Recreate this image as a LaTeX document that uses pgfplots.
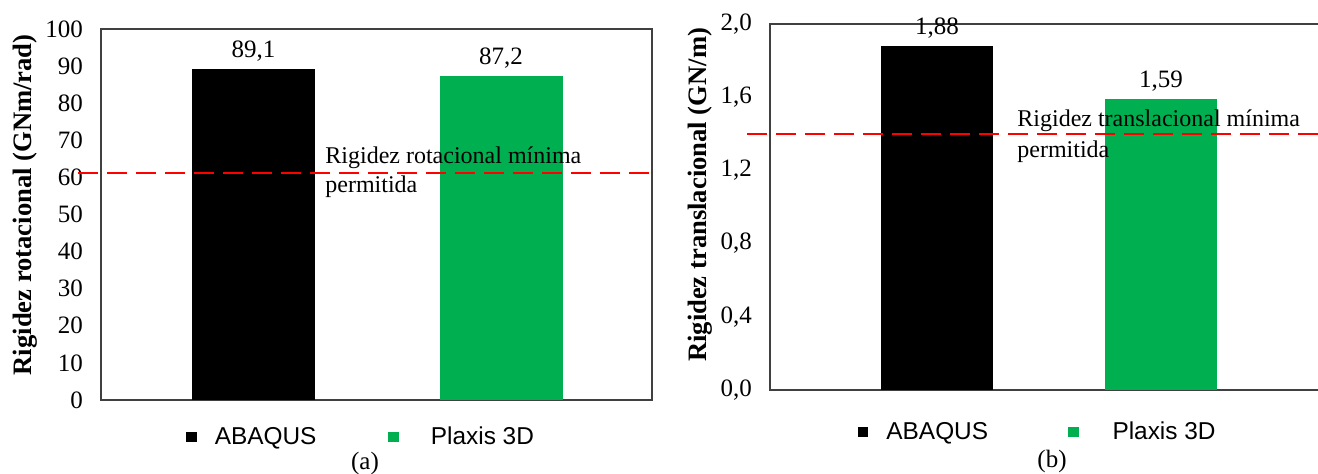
\documentclass[border=0pt]{standalone}
\usepackage{fontspec}
\setmainfont{Liberation Serif}
\newfontfamily\arialfont{Liberation Sans}
\usepackage{pgfplots}
\pgfplotsset{compat=1.18}
\definecolor{plaxis}{HTML}{00B050}
\definecolor{frame}{HTML}{404040}
\pgfplotsset{
  panel/.style={
    scale only axis, anchor=south west, clip=false,
    axis line style={frame, line width=0.7pt},
    xtick=\empty, major tick length=0pt,
    tick label style={font=\fontsize{12.5}{15}\selectfont},
    /pgf/number format/assume math mode=true,
    yticklabel style={xshift=-5.5pt},
    legend columns=2,
    legend style={draw=none, fill=none, font=\arialfont\fontsize{12.2}{14}\selectfont,
      /tikz/every odd column/.append style={column sep=7pt}},
    legend image code/.code={\fill (0pt,-2.6pt) rectangle (5.2pt,2.6pt);},
    ylabel style={font=\bfseries\fontsize{13.3}{16}\selectfont, anchor=center},
    nodes near coords style={font=\fontsize{12.5}{15}\selectfont, text=black, yshift=0.5pt},
  },
}
\begin{document}
\begin{tikzpicture}
\useasboundingbox (0,0) rectangle (659pt,236.5pt);
% ---------------- (a)
\begin{axis}[panel,
  at={(50.5pt,36.5pt)}, width=275.5pt, height=185.5pt,
  xmin=-0.616, xmax=1.610, ymin=0, ymax=100,
  ytick={0,10,...,100},
  ylabel={Rigidez rotacional (GNm/rad)},
  ylabel style={at={(axis description cs:-0.138,0.526)}},
  legend style={at={(axis description cs:0.474,-0.0997)}, anchor=center,
    /tikz/every even column/.append style={column sep=34pt}},
]
\addplot[ybar, bar width=61.5pt, bar shift=0pt, fill=black, draw=none,
  nodes near coords={\pgfmathprintnumber[use comma,fixed,precision=2]{\pgfplotspointmeta}}]
  coordinates {(0,89.1)};
\addlegendentry{ABAQUS}
\addplot[ybar, bar width=61.5pt, bar shift=0pt, fill=plaxis, draw=none,
  nodes near coords={\pgfmathprintnumber[use comma,fixed,precision=2]{\pgfplotspointmeta}}]
  coordinates {(1,87.2)};
\addlegendentry{\hspace{7pt}Plaxis 3D}
\addplot[red, line width=1pt, dash pattern=on 10pt off 4.5pt, forget plot]
  coordinates {(-0.709,61.2) (1.622,61.2)};
\end{axis}
\node[anchor=west, align=left, inner sep=0pt, font=\fontsize{12}{14.5}\selectfont]
  at (162.5pt,150.25pt) {Rigidez rotacional mínima\\permitida};
\node[font=\fontsize{12.5}{15}\selectfont] at (182.5pt,5pt) {(a)};
% ---------------- (b)
\begin{axis}[panel,
  at={(385pt,41.5pt)}, width=280pt, height=183pt,
  xmin=-0.745, xmax=1.754, ymin=0, ymax=2,
  ytick={0,0.4,...,2.01},
  yticklabel={\pgfmathprintnumber[use comma,fixed,fixed zerofill,precision=1]{\tick}},
  ylabel={Rigidez translacional (GN/m)},
  ylabel style={at={(axis description cs:-0.125,0.533)}},
  legend style={at={(axis description cs:0.480,-0.115)}, anchor=center,
    /tikz/every even column/.append style={column sep=38pt}},
]
\addplot[ybar, bar width=56pt, bar shift=0pt, fill=black, draw=none,
  nodes near coords={\pgfmathprintnumber[use comma,fixed,precision=2]{\pgfplotspointmeta}}]
  coordinates {(0,1.88)};
\addlegendentry{ABAQUS}
\addplot[ybar, bar width=56pt, bar shift=0pt, fill=plaxis, draw=none,
  nodes near coords={\pgfmathprintnumber[use comma,fixed,precision=2]{\pgfplotspointmeta}}]
  coordinates {(1,1.59)};
\addlegendentry{\hspace{8pt}Plaxis 3D}
\addplot[red, line width=1pt, dash pattern=on 10pt off 4.5pt, forget plot]
  coordinates {(-0.847,1.4) (1.8,1.4)};
\end{axis}
\node[anchor=west, align=left, inner sep=0pt, font=\fontsize{12}{15.5}\selectfont]
  at (508.5pt,168.5pt) {Rigidez translacional mínima\\permitida};
\node[font=\fontsize{12.5}{15}\selectfont] at (526pt,6pt) {(b)};
\end{tikzpicture}
\end{document}
